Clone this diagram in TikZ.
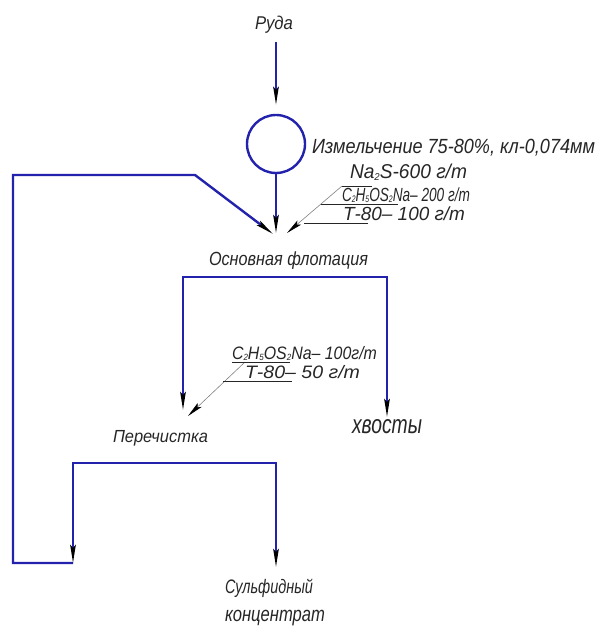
\documentclass[tikz,border=0pt]{standalone}
\usepackage{fontspec}
\newfontfamily\gost{Liberation Sans}
\usetikzlibrary{arrows.meta}
\definecolor{flowc}{RGB}{34,34,172}
\definecolor{ink}{RGB}{38,38,38}
\newcommand{\fitt}[3]{\resizebox{#1pt}{\height}{\fontsize{#2}{#2}\selectfont\gost\itshape #3}}
\newcommand{\sbs}[1]{\raisebox{-0.1em}{\scalebox{0.5}{#1}}}
\begin{document}
\begin{tikzpicture}[x=1pt,y=-1pt,
  flow/.style={draw=flowc, line width=2.4pt, line join=miter},
  tip/.style={-{Stealth[length=18pt,width=5.5pt,inset=3pt,color=black]}},
  twotip/.style={{Stealth[length=18pt,width=5.5pt,inset=3pt,color=black]}-{Stealth[length=18pt,width=5.5pt,inset=3pt,color=black]}},
  lbl/.style={anchor=base west, inner sep=0pt, outer sep=0pt, text=ink},
  leader/.style={draw=gray, line width=0.6pt},
  ltip/.style={-{Stealth[length=16pt,width=5.5pt,inset=3pt,color=black]}},
  shelf/.style={draw=ink, line width=0.8pt}]
\useasboundingbox (0,0) rectangle (597,628);

% texts
\node[lbl] (ruda) at (255,30) {\fitt{38}{18.5}{Руда}};
\node[lbl] (izm) at (312,154) {\fitt{283}{20.5}{Измельчение 75-80\%, кл-0,074мм}};
\node[lbl] (nas) at (350,179) {\fitt{117}{20}{Na\sbs{2}S-600 г/т}};
\node[lbl] (xan1) at (342,201) {\fitt{128}{19}{C\sbs{2}H\sbs{5}OS\sbs{2}Na– 200 г/т}};
\node[lbl] (t1) at (343,221) {\fitt{122}{19}{Т-80– 100 г/т}};
\node[lbl] (osn) at (209,265) {\fitt{159}{19}{Основная флотация}};
\node[lbl] (xan2) at (232,359) {\fitt{145}{18}{C\sbs{2}H\sbs{5}OS\sbs{2}Na– 100г/т}};
\node[lbl] (t2) at (245,378) {\fitt{115}{18}{Т-80– 50 г/т}};
\node[lbl] (xv) at (352,433) {\fitt{70}{26}{хвосты}};
\node[lbl] (per) at (113,442) {\fitt{95}{17.5}{Перечистка}};
\node[lbl] (sul) at (225,593) {\fitt{88}{19.5}{Сульфидный}};
\node[lbl] (kon) at (225,621) {\fitt{100}{21}{концентрат}};

% mill
\node[draw=flowc, line width=2.4pt, circle, minimum size=58pt, inner sep=0pt] (mill) at (276,144) {};

% coordinates
\coordinate (r0) at (276,42);
\coordinate (feed) at (276,233);
\coordinate (feedL) at (273,234);
\coordinate (feedR) at (287,233);
\coordinate (f1) at (183,277);
\coordinate (f2) at (387,277);
\coordinate (fL) at (183,410);
\coordinate (fR) at (387,417);
\coordinate (p1) at (73,463);
\coordinate (p2) at (276,463);
\coordinate (pL) at (73,563);
\coordinate (pR) at (276,567);
\coordinate (b1) at (13,563);
\coordinate (b2) at (13,175);
\coordinate (b3) at (195,175);
\coordinate (la1) at (342,186);
\coordinate (la2) at (188,416);
\coordinate (la3) at (245,362);

% main flows
\draw[flow,tip,shorten >=9pt] (r0) -- (mill.north);
\draw[flow,tip] (mill.south) -- (feed);
\draw[flow,tip] (pL) -- (b1) -- (b2) -- (b3) -- (feedL);
\draw[flow,twotip] (fL) -- (f1) -- (f2) -- (fR);
\draw[flow,twotip] (pL) -- (p1) -- (p2) -- (pR);

% reagent leaders
\draw[leader,ltip] (la1) -- (feedR);
\draw[shelf] (la1) -- (372,186);
\draw[shelf] (321,204) -- (398,204);
\draw[shelf] (304,223) -- (368,223);
\draw[leader,ltip] (la3) -- (la2);
\draw[shelf] (232,362) -- (290,362);
\draw[shelf] (223,381) -- (292,381);
\end{tikzpicture}
\end{document}
